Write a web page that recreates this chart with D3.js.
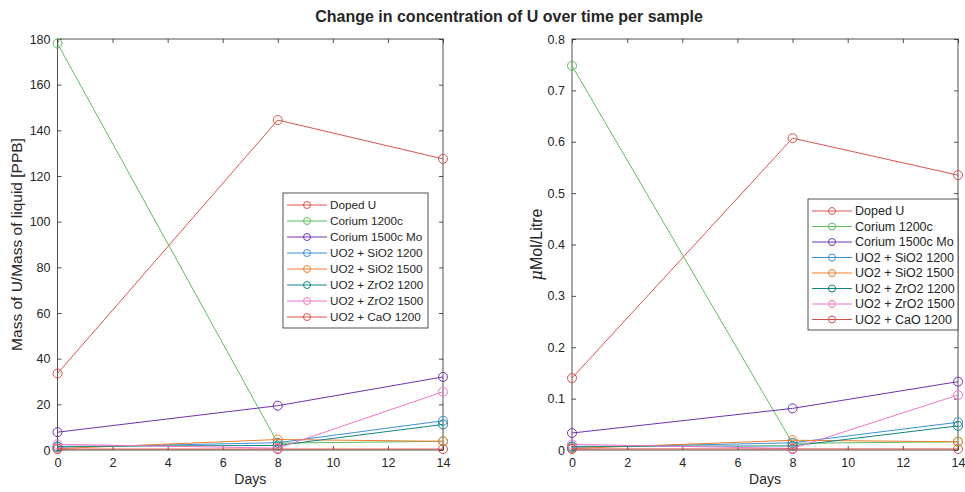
<!DOCTYPE html>
<html lang="en">
  <head>
    <meta charset="UTF-8" />
    <title>Change in concentration of U over time per sample</title>
    <script src="https://d3js.org/d3.v7.min.js"></script>
    <style>
      body {
        margin: 0;
        background: #fff;
      }
      svg text {
        font-family: "Liberation Sans", Arial, sans-serif;
        fill: #262626;
      }
    </style>
  </head>
  <body>
    <div id="chart"></div>
    <script>
      // Données
      const days = [0, 8, 14];
      const seriesNames = [
        "Doped U",
        "Corium 1200c",
        "Corium 1500c Mo",
        "UO2 + SiO2 1200",
        "UO2 + SiO2 1500",
        "UO2 + ZrO2 1200",
        "UO2 + ZrO2 1500",
        "UO2 + CaO 1200",
      ];
      const seriesColors = [
        "#d9534f",
        "#5cbc5c",
        "#7232b0",
        "#3b8fd4",
        "#ee7c2e",
        "#118585",
        "#f276cb",
        "#d24e4b",
      ];
      // PPB
      const ppbValues = [
        [33.5, 144.5, 127.5],
        [178, 3.0, 3.8],
        [7.8, 19.4, 32],
        [1.2, 3.2, 12.8],
        [0.6, 4.6, 3.8],
        [1.6, 2.0, 11.2],
        [2.5, 0.8, 25.5],
        [0.4, 0.4, 0.4],
      ];
      // µMol/Litre
      const molValues = [
        [0.14, 0.607, 0.535],
        [0.748, 0.013, 0.016],
        [0.033, 0.081, 0.133],
        [0.005, 0.014, 0.054],
        [0.003, 0.019, 0.016],
        [0.007, 0.008, 0.047],
        [0.011, 0.003, 0.107],
        [0.002, 0.002, 0.002],
      ];
      const xTicks = [0, 2, 4, 6, 8, 10, 12, 14];
      const yTicksLeft = [0, 20, 40, 60, 80, 100, 120, 140, 160, 180];
      const yTicksRight = [0, 0.1, 0.2, 0.3, 0.4, 0.5, 0.6, 0.7, 0.8];

      const width = 965,
        height = 492;

      const svg = d3
        .select("#chart")
        .append("svg")
        .attr("width", width)
        .attr("height", height);

      svg
        .append("text")
        .attr("x", 509)
        .attr("y", 22)
        .attr("text-anchor", "middle")
        .style("font-size", "16px")
        .style("font-weight", "bold")
        .text("Change in concentration of U over time per sample");

      function drawPanel(opts) {
        const x = d3.scaleLinear().domain([0, 14]).range([opts.left, opts.right]);
        const y = d3
          .scaleLinear()
          .domain([0, opts.ymax])
          .range([opts.bottom, opts.top]);
        const g = svg.append("g");

        // Cadre
        g.append("rect")
          .attr("x", opts.left)
          .attr("y", opts.top)
          .attr("width", opts.right - opts.left)
          .attr("height", opts.bottom - opts.top)
          .attr("fill", "none")
          .attr("stroke", "#262626")
          .attr("stroke-width", 0.8);

        // Axes (ticks vers l'intérieur)
        const axisB = d3.axisBottom(x).tickValues(xTicks).tickSize(-4).tickPadding(8);
        const axisT = d3.axisTop(x).tickValues(xTicks).tickSize(-4).tickFormat("");
        const axisL = d3
          .axisLeft(y)
          .tickValues(opts.yTicks)
          .tickSize(-4)
          .tickPadding(7)
          .tickFormat(opts.fmt);
        const axisR = d3.axisRight(y).tickValues(opts.yTicks).tickSize(-4).tickFormat("");

        [
          [axisB, `translate(0,${opts.bottom})`],
          [axisT, `translate(0,${opts.top})`],
          [axisL, `translate(${opts.left},0)`],
          [axisR, `translate(${opts.right},0)`],
        ].forEach(([ax, tr]) => {
          const a = g.append("g").attr("transform", tr).call(ax);
          a.select(".domain").remove();
          a.selectAll("line").attr("stroke", "#262626").attr("stroke-width", 0.8);
          a.selectAll("text")
            .style("font-size", "12.5px")
            .style("font-family", "Liberation Sans, Arial, sans-serif")
            .attr("fill", "#4d4d4d");
        });

        // Séries
        const line = d3
          .line()
          .x((d, i) => x(days[i]))
          .y((d) => y(d));

        opts.values.forEach((vals, s) => {
          g.append("path")
            .datum(vals)
            .attr("d", line)
            .attr("fill", "none")
            .attr("stroke", seriesColors[s])
            .attr("stroke-width", 1);
          g.selectAll(null)
            .data(vals)
            .join("circle")
            .attr("cx", (d, i) => x(days[i]))
            .attr("cy", (d) => y(d))
            .attr("r", 4.5)
            .attr("fill", "none")
            .attr("stroke", seriesColors[s])
            .attr("stroke-width", 1);
        });

        // Titres d'axes
        g.append("text")
          .attr("x", (opts.left + opts.right) / 2)
          .attr("y", opts.bottom + 34)
          .attr("text-anchor", "middle")
          .style("font-size", "14px")
          .attr("fill", "#4d4d4d")
          .text("Days");

        const yl = g
          .append("text")
          .attr(
            "transform",
            `translate(${opts.ylabelX},${(opts.top + opts.bottom) / 2}) rotate(-90)`
          )
          .attr("text-anchor", "middle")
          .attr("fill", "#4d4d4d")
          .style("font-size", opts.ylabelSize);
        opts.ylabel(yl);

        // Légende
        const lg = g.append("g");
        const rowH = opts.legend.rowH;
        lg.append("rect")
          .attr("x", opts.legend.x)
          .attr("y", opts.legend.y)
          .attr("width", opts.legend.w)
          .attr("height", rowH * seriesNames.length + 7)
          .attr("fill", "#fff")
          .attr("stroke", "#262626")
          .attr("stroke-width", 0.8);
        seriesNames.forEach((name, s) => {
          const cy = opts.legend.y + 12 + s * rowH;
          const lx = opts.legend.x + 4;
          lg.append("line")
            .attr("x1", lx)
            .attr("x2", lx + 40)
            .attr("y1", cy)
            .attr("y2", cy)
            .attr("stroke", seriesColors[s])
            .attr("stroke-width", 1);
          lg.append("circle")
            .attr("cx", lx + 20)
            .attr("cy", cy)
            .attr("r", 3.5)
            .attr("fill", "none")
            .attr("stroke", seriesColors[s]);
          lg.append("text")
            .attr("x", lx + 43)
            .attr("y", cy + 4)
            .style("font-size", opts.legend.font)
            .text(name);
        });
      }

      drawPanel({
        left: 57.5,
        right: 443,
        top: 39,
        bottom: 450,
        ymax: 180,
        yTicks: yTicksLeft,
        fmt: d3.format("d"),
        values: ppbValues,
        ylabelX: 22,
        ylabelSize: "15.5px",
        ylabel: (t) => t.text("Mass of U/Mass of liquid [PPB]"),
        legend: { x: 283, y: 193, w: 145, rowH: 16, font: "11.7px" },
      });

      drawPanel({
        left: 572,
        right: 958,
        top: 39,
        bottom: 450,
        ymax: 0.8,
        yTicks: yTicksRight,
        fmt: (d) => (d === 0 ? "0" : d3.format(".1f")(d)),
        values: molValues,
        ylabelX: 542,
        ylabelSize: "16px",
        ylabel: (t) => {
          t.append("tspan")
            .style("font-family", "DejaVu Serif, serif")
            .style("font-style", "italic")
            .text("\u03bc");
          t.append("tspan").text("Mol/Litre");
        },
        legend: { x: 808, y: 199, w: 150, rowH: 15.5, font: "12.5px" },
      });
    </script>
  </body>
</html>
